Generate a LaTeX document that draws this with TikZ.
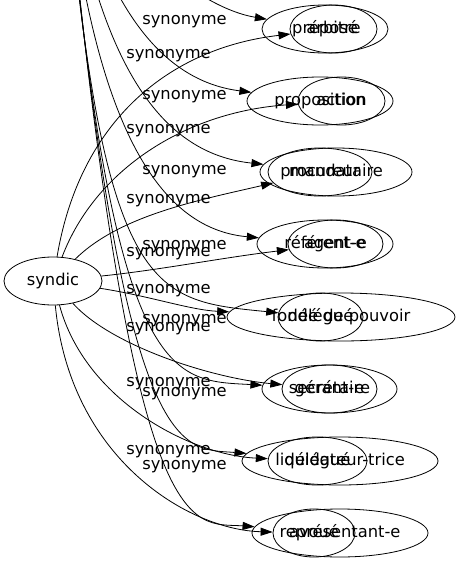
\documentclass[tikz,border=0pt]{standalone}
\usepackage{fontspec}
\setmainfont{DejaVu Sans}
\usetikzlibrary{shapes.geometric,arrows.meta}
\begin{document}
\begin{tikzpicture}[x=1pt,y=-1pt,
  every node/.style={font=\fontsize{16.3}{19}\selectfont, text height=12pt, text depth=4pt, inner sep=0pt},
  word/.style={draw, ellipse, line width=0.8pt, minimum height=48pt, inner sep=0pt},
  lbl/.style={},
  link/.style={line width=0.8pt, -{Triangle[length=12pt,width=8pt]}}]
\useasboundingbox (0,0) rectangle (459,563);
\fill[white] (0,0) rectangle (459,563);
\clip (0,0) rectangle (459,563);
% source nodes
\node[word, minimum width=98pt, label={center:syndic}] (syndic) at (53,281) {};
\coordinate (srcB) at (62,-180);
% targets
\node[word, minimum width=126pt, label={center:préposé}] (prepose) at (325,29) {};
\node[word, minimum width=87pt, label={center:arbitre}] (arbitre) at (333.5,29) {};
\node[word, minimum width=146pt, label={center:proposition}] (proposition) at (320,101) {};
\node[word, minimum width=87pt, label={center:action}] (action) at (341.5,101) {};
\node[word, minimum width=152pt, label={center:mandataire}] (mandataire) at (336,172) {};
\node[word, minimum width=104pt, label={center:procureur}] (procureur) at (320,172) {};
\node[word, minimum width=136pt, label={center:référent-e}] (referent) at (325,244) {};
\node[word, minimum width=95pt, label={center:agent-e}] (agent) at (335.5,244) {};
\node[word, minimum width=228pt, label={center:fondé de pouvoir}] (fonde) at (341,317) {};
\node[word, minimum width=85pt, label={center:délégué}] (deleguefive) at (320.5,317) {};
\node[word, minimum width=135pt, label={center:secrétaire}] (secretaire) at (329.5,389) {};
\node[word, minimum width=95pt, label={center:gérant-e}] (gerant) at (329.5,389) {};
\node[word, minimum width=196pt, label={center:liquidateur-trice}] (liquidateur) at (340,461) {};
\node[word, minimum width=99pt, label={center:délégué}] (deleguesept) at (317.5,461) {};
\node[word, minimum width=176pt, label={center:représentant-e}] (representant) at (340,533) {};
\node[word, minimum width=82pt, label={center:avoué}] (avoue) at (314,533) {};
% edges from syndic
\draw[link] (syndic) .. controls (80,120) and (170,48) .. (arbitre);
\draw[link] (syndic) .. controls (95,170) and (185,112) .. (action);
\draw[link] (syndic) .. controls (120,215) and (200,200) .. (procureur);
\draw[link] (syndic) .. controls (160,270) and (220,258) .. (agent);
\draw[link] (syndic) .. controls (150,296) and (190,310) .. (fonde);
\draw[link] (syndic) .. controls (110,345) and (210,378) .. (gerant);
\draw[link] (syndic) .. controls (85,400) and (190,455) .. (deleguesept);
\draw[link] (syndic) .. controls (70,460) and (190,530) .. (avoue);
% edges from the source above
\draw[link] (srcB) .. controls (110,-60) and (200,8) .. (prepose);
\draw[link] (srcB) .. controls (100,20) and (170,82) .. (proposition);
\draw[link] (srcB) .. controls (95,90) and (175,155) .. (mandataire);
\draw[link] (srcB) .. controls (90,160) and (175,230) .. (referent);
\draw[link] (srcB) .. controls (100,300) and (150,300) .. (deleguefive);
\draw[link] (srcB) .. controls (110,390) and (170,380) .. (secretaire);
\draw[link] (srcB) .. controls (120,470) and (180,448) .. (liquidateur);
\draw[link] (srcB) .. controls (130,560) and (190,522) .. (representant);
% edge labels
\node[lbl] (la1) at (168.5,54) {synonyme};
\node[lbl] (la2) at (168.5,129) {synonyme};
\node[lbl] (la3) at (168.5,199) {synonyme};
\node[lbl] (la4) at (168.5,252) {synonyme};
\node[lbl] (la5) at (168.5,289) {synonyme};
\node[lbl] (la6) at (168.5,327) {synonyme};
\node[lbl] (la7) at (168.5,382) {synonyme};
\node[lbl] (la8) at (168.5,450) {synonyme};
\node[lbl] (lb2) at (184.5,20) {synonyme};
\node[lbl] (lb3) at (184.5,95) {synonyme};
\node[lbl] (lb4) at (184.5,170) {synonyme};
\node[lbl] (lb5) at (184.5,245) {synonyme};
\node[lbl] (lb6) at (184.5,319) {synonyme};
\node[lbl] (lb7) at (184.5,392) {synonyme};
\node[lbl] (lb8) at (184.5,465) {synonyme};
\end{tikzpicture}
\end{document}
